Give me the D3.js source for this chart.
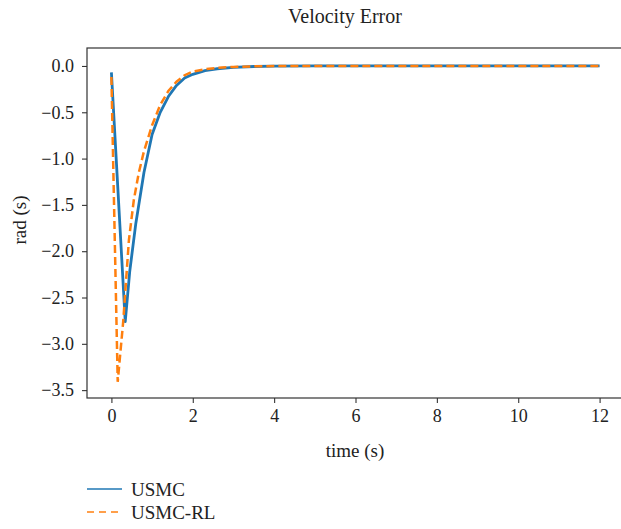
<!DOCTYPE html>
<html>
<head>
<meta charset="utf-8">
<script src="https://cdn.jsdelivr.net/npm/d3@7"></script>
<style>
  body { margin: 0; background: #fff; }
  svg text { font-family: "Liberation Serif", "DejaVu Serif", serif; fill: #222; }
</style>
</head>
<body>
<svg id="chart" width="621" height="529"></svg>
<script>
// data
var usmcTime = [0, 0.34, 0.45, 0.6, 0.8, 1.0, 1.2, 1.4, 1.6, 1.8, 2.0, 2.3, 2.6, 3.0, 3.5, 4.0, 5.0, 6.0, 8.0, 10.0, 12.0]
var usmcErr  = [-0.07, -2.76, -2.22, -1.70, -1.15, -0.74, -0.50, -0.33, -0.21, -0.13, -0.09, -0.05, -0.03, -0.015, -0.006, -0.002, 0, 0, 0, 0, 0]

var rlTime = [0, 0.155, 0.29, 0.43, 0.55, 0.67, 0.8, 1.0, 1.2, 1.4, 1.6, 1.8, 2.0, 2.3, 2.6, 3.0, 3.5, 4.0, 5.0, 6.0, 8.0, 10.0, 12.0]
var rlErr  = [-0.12, -3.41, -2.76, -1.88, -1.45, -1.16, -0.92, -0.64, -0.42, -0.27, -0.17, -0.10, -0.06, -0.035, -0.02, -0.01, -0.004, -0.001, 0, 0, 0, 0, 0]

var xTicks = [0, 2, 4, 6, 8, 10, 12]
var yTicks = [0, -0.5, -1.0, -1.5, -2.0, -2.5, -3.0, -3.5]

var seriesNames = ["USMC", "USMC-RL"]
var seriesColors = ["#1f77b4", "#ff7f0e"]

var svg = d3.select("#chart")

// plot box (right edge runs past the picture)
var boxLeft = 87, boxTop = 48, boxRight = 624, boxBottom = 398

var x = d3.scaleLinear().domain([-0.6, 12.6]).range([boxLeft, boxRight])
var y = d3.scaleLinear().domain([0.194, -3.585]).range([boxTop, boxBottom])

// title
svg.append("text")
  .attr("x", 345)
  .attr("y", 23)
  .attr("text-anchor", "middle")
  .style("font-size", "20px")
  .text("Velocity Error")

// lines
var line = d3.line()
  .x(function(d) { return x(d[0]) })
  .y(function(d) { return y(d[1]) })

var clip = svg.append("clipPath").attr("id", "plotclip")
clip.append("rect").attr("x", boxLeft).attr("y", boxTop).attr("width", boxRight - boxLeft).attr("height", boxBottom - boxTop)

var plot = svg.append("g").attr("clip-path", "url(#plotclip)")

plot.append("path")
  .datum(d3.zip(usmcTime, usmcErr))
  .attr("d", line)
  .attr("fill", "none")
  .attr("stroke", seriesColors[0])
  .attr("stroke-width", 2.8)
  .attr("stroke-linejoin", "round")

plot.append("path")
  .datum(d3.zip(rlTime, rlErr))
  .attr("d", line)
  .attr("fill", "none")
  .attr("stroke", seriesColors[1])
  .attr("stroke-width", 2.5)
  .attr("stroke-dasharray", "8,4")

// axes
svg.append("g")
  .attr("transform", "translate(0," + boxBottom + ")")
  .call(d3.axisBottom(x).tickValues(xTicks).tickSize(5).tickPadding(6).tickFormat(d3.format("d")))

svg.append("g")
  .attr("transform", "translate(" + boxLeft + ",0)")
  .call(d3.axisLeft(y).tickValues(yTicks).tickSize(5).tickPadding(8)
    .tickFormat(function(d) { return d3.format(".1f")(d).replace("-", "\u2212") }))

svg.selectAll(".tick text").style("font-size", "18px").style("font-family", '"Liberation Serif", serif').attr("fill", "#222")
svg.selectAll(".tick line").attr("stroke", "#333").attr("stroke-width", 1.1)
svg.selectAll(".domain").remove()

// spines
svg.append("rect")
  .attr("x", boxLeft).attr("y", boxTop)
  .attr("width", boxRight - boxLeft).attr("height", boxBottom - boxTop)
  .attr("fill", "none")
  .attr("stroke", "#333")
  .attr("stroke-width", 1.2)

// axis labels
svg.append("text")
  .attr("x", 355)
  .attr("y", 457)
  .attr("text-anchor", "middle")
  .style("font-size", "19px")
  .text("time (s)")

svg.append("text")
  .attr("transform", "translate(26,220) rotate(-90)")
  .attr("text-anchor", "middle")
  .style("font-size", "19px")
  .text("rad (s)")

// legend
var legend = svg.append("g")
seriesNames.forEach(function(name, i) {
  var ly = 489 + i * 23
  legend.append("line")
    .attr("x1", 87).attr("x2", 122)
    .attr("y1", ly).attr("y2", ly)
    .attr("stroke", seriesColors[i])
    .attr("stroke-width", 2)
    .attr("stroke-opacity", 0.75)
    .attr("stroke-dasharray", i == 1 ? "7,5" : null)
  legend.append("text")
    .attr("x", 131)
    .attr("y", ly + 6.5)
    .style("font-size", "19px")
    .text(name)
})
</script>
</body>
</html>
